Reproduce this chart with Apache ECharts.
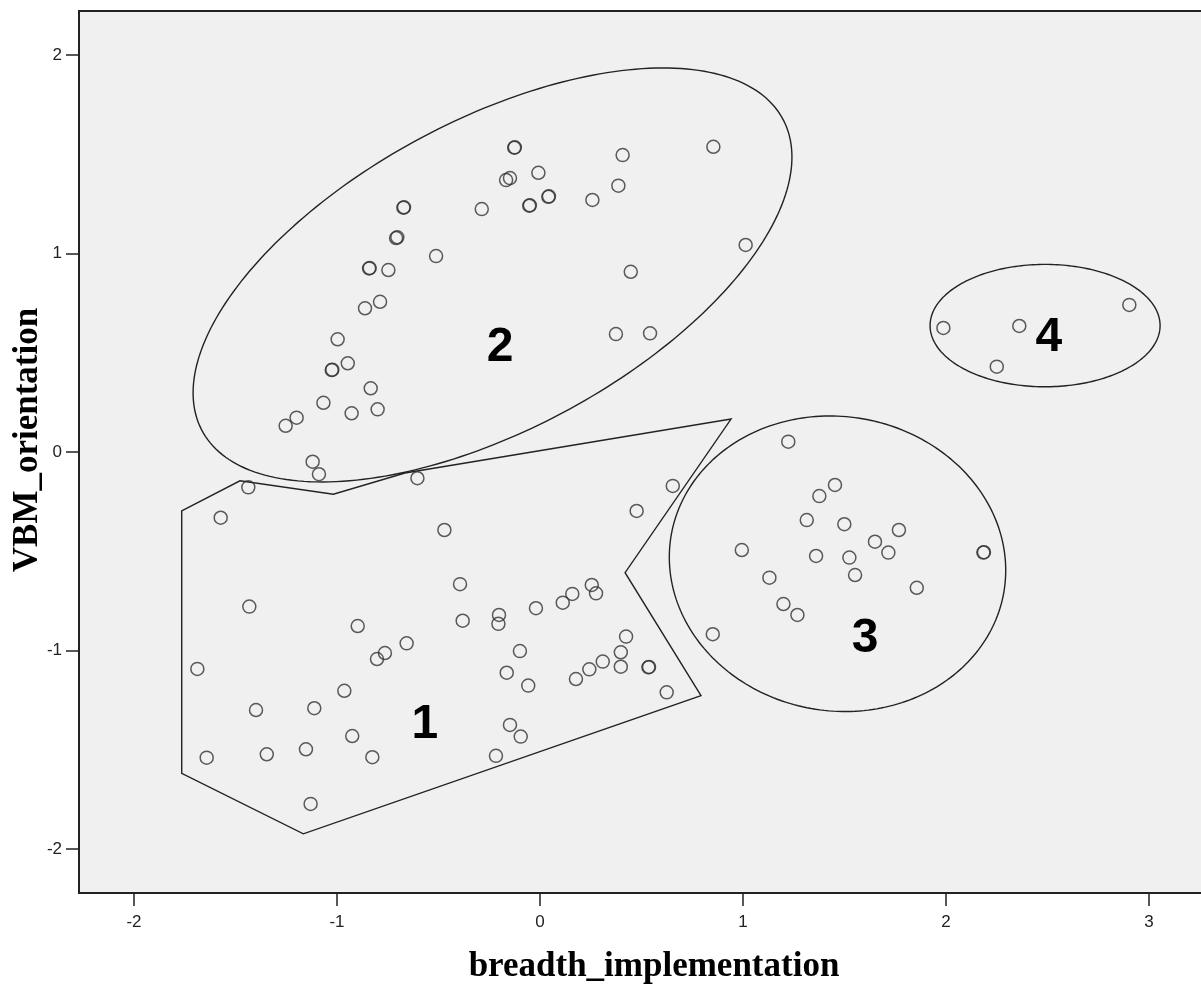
<!DOCTYPE html>
<html><head><meta charset="utf-8">
<script src="https://cdn.jsdelivr.net/npm/echarts@6/dist/echarts.min.js"></script>
<style>html,body{margin:0;padding:0;background:#fff}#c{width:1201px;height:985px}</style>
</head><body><div id="c"></div>
<script>
// Tick labels
const xTicks = [-2, -1, 0, 1, 2, 3];
const yTicks = [-2, -1, 0, 1, 2];
const xName = 'breadth_implementation';
const yName = 'VBM_orientation';

// Cases [breadth_implementation, VBM_orientation]
const cluster1 = [
  [-1.573,-0.331],[-1.437,-0.178],[-1.432,-0.779],[-1.688,-1.093],[-1.642,-1.540],
  [-1.399,-1.300],[-1.346,-1.523],[-1.153,-1.498],[-1.130,-1.773],[-1.112,-1.291],
  [-0.964,-1.203],[-0.925,-1.431],[-0.898,-0.877],[-0.826,-1.538],[-0.803,-1.043],
  [-0.764,-1.013],[-0.657,-0.964],[-0.604,-0.132],[-0.471,-0.393],[-0.394,-0.666],
  [-0.381,-0.850],[-0.217,-1.531],[-0.202,-0.821],[-0.205,-0.866],[-0.164,-1.112],
  [-0.148,-1.375],[-0.099,-1.003],[-0.095,-1.434],[-0.058,-1.177],[-0.020,-0.787],
  [0.112,-0.759],[0.159,-0.715],[0.177,-1.144],[0.243,-1.095],[0.255,-0.670],
  [0.276,-0.712],[0.309,-1.056],[0.398,-1.009],[0.398,-1.082],[0.424,-0.930],
  [0.476,-0.297],[0.534,-1.085],[0.537,-1.083],[0.624,-1.211],[0.654,-0.171]
];
const cluster2 = [
  [-0.127,1.533],[-0.124,1.535],[0.407,1.496],[0.854,1.538],[-0.008,1.407],
  [-0.167,1.370],[-0.148,1.380],[0.386,1.342],[0.041,1.286],[0.044,1.288],
  [0.258,1.270],[-0.053,1.241],[-0.050,1.243],[-0.287,1.224],[-0.673,1.231],
  [-0.670,1.233],[-0.709,1.078],[-0.703,1.082],[-0.512,0.987],[1.013,1.043],
  [0.447,0.908],[-0.842,0.925],[-0.839,0.927],[-0.747,0.917],[-0.862,0.724],
  [-0.788,0.757],[0.374,0.594],[0.542,0.598],[-0.997,0.568],[-0.947,0.447],
  [-1.026,0.413],[-1.023,0.415],[-0.834,0.321],[-1.067,0.248],[-1.199,0.173],
  [-1.253,0.132],[-0.928,0.195],[-0.800,0.215],[-1.120,-0.049],[-1.089,-0.112]
];
const cluster3 = [
  [1.223,0.052],[1.453,-0.166],[1.376,-0.222],[1.314,-0.343],[1.499,-0.364],
  [1.768,-0.393],[1.650,-0.452],[1.716,-0.507],[1.360,-0.524],[1.524,-0.532],
  [2.184,-0.507],[2.187,-0.505],[1.552,-0.620],[1.856,-0.684],[0.994,-0.494],
  [1.130,-0.633],[1.199,-0.766],[1.268,-0.821],[0.851,-0.918]
];
const cluster4 = [
  [1.987,0.625],[2.361,0.635],[2.250,0.430],[2.903,0.741]
];

// Cluster annotations
const clusterNames = ['1', '2', '3', '4'];
const clusterLabelAt = [[-0.567,-1.361],[-0.197,0.540],[1.601,-0.927],[2.507,0.590]];
// ellipse outlines: [centerX, centerY, halfWidthX, halfHeightY, yOffsetAtXExtreme]
const ellipses = [
  [-0.234, 0.892, 1.475, 1.043, 0.594],
  [1.4655, -0.563, 0.8286, 0.7446, -0.033],
  [2.488, 0.637, 0.5665, 0.3083, 0.0]
];
// polygon outline around cluster 1
const polygon1 = [
  [-1.765,-0.297],[-1.478,-0.145],[-1.018,-0.213],[-0.665,-0.106],[0.941,0.166],
  [0.419,-0.608],[0.793,-1.228],[-1.166,-1.924],[-1.765,-1.619]
];

const chart = echarts.init(document.getElementById('c'), null, {renderer: 'canvas'});
const pointStyle = {color: 'rgba(0,0,0,0)', borderColor: '#333', borderWidth: 1.5};
const outline = {fill: 'none', stroke: '#222', lineWidth: 1.4};
function scatter(data){
  return {type: 'scatter', data: data, symbol: 'circle', symbolSize: 13,
    itemStyle: pointStyle, emphasis: {disabled: true}, silent: true, z: 3};
}
const axisFont = {fontSize: 17, color: '#222', fontFamily: '"Liberation Sans", Arial, sans-serif'};
chart.setOption({
  animation: false,
  backgroundColor: '#ffffff',
  grid: {left: 79, top: 11, width: 1150, height: 882, show: true, outerBoundsMode: 'none',
    containLabel: false,
    backgroundColor: '#f0f0f0', borderColor: '#222', borderWidth: 2},
  xAxis: {type: 'value', min: -2.271, max: 3.394,
    axisLine: {show: true, onZero: false, lineStyle: {color: '#222', width: 2}},
    axisTick: {show: true, length: 13, lineStyle: {color: '#222', width: 1.5}, customValues: xTicks},
    axisLabel: Object.assign({customValues: xTicks, margin: 21}, axisFont),
    splitLine: {show: false}},
  yAxis: {type: 'value', min: -2.222, max: 2.222,
    axisLine: {show: true, onZero: false, lineStyle: {color: '#222', width: 2}},
    axisTick: {show: true, length: 13, lineStyle: {color: '#222', width: 1.5}, customValues: yTicks},
    axisLabel: Object.assign({customValues: yTicks, margin: 17}, axisFont),
    splitLine: {show: false}},
  graphic: [
    {type: 'text', x: 654, y: 967, silent: true,
      style: {text: xName, font: 'bold 35px "Liberation Serif", "Times New Roman", serif', fill: '#000',
        textAlign: 'center', textVerticalAlign: 'middle'}},
    {type: 'text', x: 28, y: 440, rotation: Math.PI / 2, silent: true,
      style: {text: yName, font: 'bold 35px "Liberation Serif", "Times New Roman", serif', fill: '#000',
        textAlign: 'center', textVerticalAlign: 'middle'}}
  ],
  series: [
    {type: 'custom', silent: true, z: 2,
      data: ellipses.map(e => [e[0], e[1]]),
      renderItem: function(params, api){
        const e = ellipses[params.dataIndex];
        const r = Math.sqrt(e[3]*e[3] - e[4]*e[4]);
        const pts = [];
        for (let i = 0; i < 240; i++) {
          const t = i / 240 * 2 * Math.PI;
          pts.push(api.coord([e[0] + e[2]*Math.cos(t), e[1] + e[4]*Math.cos(t) + r*Math.sin(t)]));
        }
        return {type: 'polygon', shape: {points: pts}, style: outline};
      }},
    {type: 'custom', silent: true, z: 2,
      data: [polygon1[0]],
      renderItem: function(params, api){
        return {type: 'polygon', shape: {points: polygon1.map(p => api.coord(p))}, style: outline};
      }},
    scatter(cluster1), scatter(cluster2), scatter(cluster3), scatter(cluster4),
    {type: 'custom', silent: true, z: 4,
      data: clusterLabelAt,
      renderItem: function(params, api){
        const p = api.coord([api.value(0), api.value(1)]);
        return {type: 'text', x: p[0], y: p[1] + 3,
          style: {text: clusterNames[params.dataIndex], fill: '#000',
            font: 'bold 48px "Liberation Sans", Arial, sans-serif',
            align: 'center', verticalAlign: 'middle'}};
      }}
  ]
});
</script>
</body></html>
